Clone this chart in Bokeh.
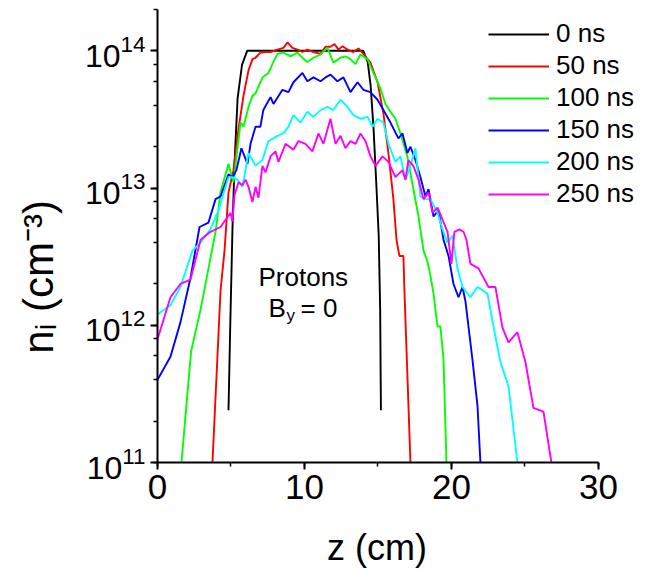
import math
from bokeh.plotting import figure
from bokeh.models import Label, SingleIntervalTicker, LogTicker
from bokeh.embed import file_html
from bokeh.resources import INLINE

# ---------------- data ----------------
z_0ns = [4.83, 4.95, 5.1, 5.25, 5.45, 5.75, 6.1, 7, 8, 9, 10, 11, 12, 13, 14.0,
         14.3, 14.5, 14.7, 14.9, 15.05, 15.15, 15.2]
n_0ns = [2.4e11, 1.0e12, 5.0e12, 1.6e13, 4.5e13, 7.9e13, 1.0e14, 1.0e14, 1.0e14,
         1.0e14, 1.0e14, 1.0e14, 1.0e14, 1.0e14, 1.0e14, 8.3e13, 5.6e13, 2.7e13,
         1.0e13, 4.5e12, 1.3e12, 2.4e11]

z_50ns = [3.74, 4.29, 4.56, 4.83, 5.17, 5.51, 5.85, 6.19, 6.46, 6.67, 7.0, 7.35, 7.69,
          8.16, 8.57, 8.84, 9.18, 9.52, 9.86, 10.2, 10.61, 11.09, 11.43, 11.77, 12.04,
          12.31, 12.59, 12.93, 13.33, 13.67, 14.01, 14.49, 14.97, 15.37, 15.71, 16.05,
          16.26, 16.46, 16.73, 16.8, 17.21]
n_50ns = [1.0e11, 1.8e12, 3.5e12, 9.3e12, 1.35e13, 2.7e13, 4.7e13, 7.2e13, 8.7e13,
          8.9e13, 9.7e13, 9.8e13, 9.8e13, 1.02e14, 1.05e14, 1.15e14, 1.05e14, 1.02e14,
          9.8e13, 1.02e14, 9.8e13, 9.5e13, 1.07e14, 1.07e14, 1.12e14, 1.02e14, 1.08e14,
          1.02e14, 9.8e13, 1.04e14, 9.5e13, 8.2e13, 5.9e13, 3.5e13, 1.8e13, 8.3e12,
          4.2e12, 3.2e12, 3.2e12, 1.8e12, 1.0e11]

z_100ns = [1.63, 2.29, 2.93, 3.47, 3.95, 4.29, 4.83, 5.17, 5.65, 5.85, 6.19, 6.46, 6.67,
           7.14, 7.55, 7.89, 8.16, 8.57, 9.05, 9.52, 9.86, 10.2, 10.61, 11.09, 11.56,
           11.97, 12.45, 12.79, 13.13, 13.47, 13.81, 14.29, 14.69, 15.17, 15.51, 15.85,
           16.19, 16.53, 17.0, 17.41, 17.76, 18.1, 18.37, 18.57, 18.78, 19.05, 19.25,
           19.46, 19.66]
n_100ns = [1.0e11, 6.5e11, 1.3e12, 2.6e12, 4.8e12, 9.3e12, 1.5e13, 1.1e13, 3.0e13,
           2.8e13, 3.9e13, 4.7e13, 4.9e13, 6.4e13, 6.9e13, 8.3e13, 9.5e13, 9.7e13,
           9.1e13, 9.7e13, 8.9e13, 8.3e13, 8.9e13, 9.4e13, 1.05e14, 8.2e13, 8.9e13,
           9.1e13, 8.7e13, 8.0e13, 9.4e13, 8.7e13, 6.9e13, 5.3e13, 4.1e13, 3.6e13,
           3.2e13, 2.5e13, 1.7e13, 9.8e12, 6.2e12, 3.5e12, 2.9e12, 2.3e12, 1.7e12,
           9.8e11, 9.8e11, 5.6e11, 1.0e11]

z_150ns = [0.0, 0.88, 1.56, 2.24, 2.86, 3.47, 3.95, 4.29, 4.83, 5.1, 5.37, 5.71, 6.12,
           6.33, 6.67, 7.0, 7.2, 7.69, 7.89, 8.5, 8.91, 9.25, 9.86, 10.2, 10.61, 11.09,
           11.43, 11.77, 12.24, 12.65, 13.13, 13.61, 14.01, 14.49, 14.97, 15.37, 15.85,
           16.39, 16.67, 17.0, 17.21, 17.55, 17.89, 18.23, 18.44, 18.78, 19.12, 19.46,
           19.8, 20.14, 20.48, 20.75, 20.95, 21.43, 21.77, 21.97]
n_150ns = [4.0e11, 5.9e11, 1.05e12, 2.2e12, 5.2e12, 5.6e12, 8.3e12, 8.7e12, 1.26e13,
           1.2e13, 1.35e13, 1.95e13, 1.5e13, 2.1e13, 2.8e13, 2.8e13, 3.7e13, 4.6e13,
           4.1e13, 5.2e13, 5.0e13, 5.9e13, 6.9e13, 6.0e13, 6.4e13, 6.0e13, 6.4e13,
           6.7e13, 6.0e13, 6.4e13, 5.0e13, 5.9e13, 5.2e13, 5.0e13, 4.4e13, 3.7e13,
           3.0e13, 2.3e13, 2.5e13, 1.8e13, 2.0e13, 1.6e13, 1.2e13, 8.7e12, 9.8e12,
           6.2e12, 6.9e12, 4.2e12, 3.2e12, 2.0e12, 1.6e12, 1.9e12, 1.5e12, 5.6e11,
           2.6e11, 1.0e11]

z_200ns = [0.0, 0.88, 1.56, 2.38, 2.93, 3.6, 4.15, 4.83, 5.1, 5.44, 5.78, 6.19, 6.67,
           7.14, 7.55, 7.89, 8.16, 8.57, 8.91, 9.25, 9.73, 10.2, 10.61, 11.09, 11.56,
           11.97, 12.45, 12.93, 13.33, 13.81, 14.29, 14.63, 14.97, 15.37, 15.71, 16.19,
           16.53, 16.87, 17.21, 17.55, 17.89, 18.23, 18.57, 19.05, 19.39, 19.73, 20.07,
           20.41, 20.75, 21.29, 21.77, 22.45, 22.86, 23.33, 23.88, 24.49]
n_200ns = [1.2e12, 1.4e12, 1.9e12, 3.5e12, 4.0e12, 5.0e12, 6.9e12, 1.2e13, 1.2e13,
           1.15e13, 1.02e13, 1.8e13, 1.45e13, 1.6e13, 2.2e13, 2.3e13, 2.4e13, 2.5e13,
           2.8e13, 3.4e13, 3.0e13, 3.6e13, 3.3e13, 3.7e13, 3.9e13, 3.7e13, 4.4e13,
           3.9e13, 3.4e13, 3.2e13, 3.3e13, 2.8e13, 3.2e13, 3.0e13, 2.1e13, 1.55e13,
           1.7e13, 1.15e13, 1.45e13, 1.95e13, 8.7e12, 8.3e12, 8.3e12, 6.6e12, 5.0e12,
           4.0e12, 4.5e12, 2.6e12, 1.9e12, 1.6e12, 1.9e12, 1.7e12, 9.8e11, 5.4e11,
           3.6e11, 1.0e11]

z_250ns = [0.0, 0.88, 1.56, 2.24, 2.93, 3.6, 4.29, 4.97, 5.1, 5.24, 5.51, 5.78, 5.99,
           6.19, 6.46, 6.67, 6.87, 7.14, 7.35, 7.69, 8.03, 8.23, 8.71, 9.25, 9.59,
           10.07, 10.54, 10.95, 11.29, 11.77, 12.11, 12.45, 12.79, 13.13, 13.47, 13.81,
           14.15, 14.49, 14.83, 15.31, 15.71, 16.19, 16.67, 16.87, 17.07, 17.41, 17.76,
           18.1, 18.44, 18.71, 19.05, 19.39, 19.73, 20.0, 20.2, 20.54, 20.82, 21.02,
           21.29, 21.84, 22.52, 22.99, 23.47, 23.88, 24.49, 25.03, 25.58, 26.26, 26.8]
n_250ns = [7.9e11, 1.6e12, 2.0e12, 2.15e12, 4.2e12, 4.8e12, 5.2e12, 6.6e12, 5.7e12,
           8.9e12, 1.1e13, 1.05e13, 1.15e13, 1.02e13, 7.9e12, 1.02e13, 8.5e12, 1.45e13,
           1.3e13, 1.7e13, 1.85e13, 1.55e13, 2.1e13, 1.9e13, 2.2e13, 2.1e13, 1.85e13,
           2.5e13, 2.1e13, 3.2e13, 2.1e13, 2.4e13, 1.95e13, 2.2e13, 2.1e13, 2.5e13,
           2.2e13, 1.7e13, 1.45e13, 1.7e13, 1.55e13, 1.2e13, 1.35e13, 1.15e13, 1.6e13,
           1.45e13, 1.15e13, 8.3e12, 9.3e12, 6.6e12, 7.2e12, 5.9e12, 4.8e12, 2.8e12,
           4.8e12, 5.0e12, 4.8e12, 4.2e12, 2.8e12, 2.6e12, 1.9e12, 1.9e12, 9.6e11,
           7.5e11, 8.9e11, 5.4e11, 2.5e11, 2.35e11, 1.0e11]

series_labels = ["0 ns", "50 ns", "100 ns", "150 ns", "200 ns", "250 ns"]
series_colors = ["#000000", "#ff0000", "#00ff00", "#0000ff", "#00ffff", "#ff00ff"]
series_z = [z_0ns, z_50ns, z_100ns, z_150ns, z_200ns, z_250ns]
series_n = [n_0ns, n_50ns, n_100ns, n_150ns, n_200ns, n_250ns]

x_axis_bounds = (0, 30)
x_view = (0, 33.95)      # frame extends right so the legend fits inside it
y_range = (1e11, 2e14)

FONT = "Liberation Sans"
NBSP = "\u00a0"

# ---------------- figure ----------------
p = figure(width=656, height=570, x_range=x_view, y_range=y_range,
           y_axis_type="log", output_backend="svg", toolbar_location=None,
           min_border_left=157, min_border_right=0, min_border_top=9,
           min_border_bottom=107)
p.outline_line_color = None
p.xgrid.visible = False
p.ygrid.visible = False
p.background_fill_color = "white"
p.border_fill_color = "white"

for zs, ns, lab, col in zip(series_z, series_n, series_labels, series_colors):
    p.line(zs, ns, line_color=col, line_width=1.9, legend_label=lab)

# axes
p.xaxis.ticker = SingleIntervalTicker(interval=10, num_minor_ticks=2)
p.xaxis.bounds = x_axis_bounds
p.yaxis.ticker = LogTicker()
for ax in (p.xaxis[0], p.yaxis[0]):
    ax.axis_line_width = 2
    ax.axis_line_color = "black"
    ax.major_tick_line_width = 2
    ax.minor_tick_line_width = 1.5
    ax.major_tick_in = 0
    ax.major_tick_out = 7
    ax.minor_tick_in = 0
    ax.minor_tick_out = 4
    ax.major_label_text_font = FONT
    ax.major_label_text_color = "black"
    ax.axis_label_text_font = FONT
    ax.axis_label_text_font_style = "normal"
    ax.axis_label_text_color = "black"
p.xaxis.major_label_text_font_size = "35px"
p.yaxis.major_label_text_font_size = "32px"
p.xaxis.major_label_standoff = 5
p.yaxis.major_label_standoff = 5
# trailing no-break spaces shift the centred label to the reference position
p.xaxis.axis_label = "z (cm)" + NBSP * 6
p.xaxis.axis_label_text_font_size = "36px"
p.xaxis.axis_label_standoff = 25
p.yaxis.axis_label = "n\u1d62 (cm\u207b\u00b3)" + NBSP * 7
p.yaxis.axis_label_text_font_size = "42px"
p.yaxis.axis_label_standoff = 20

# legend
lg = p.legend[0]
lg.location = (331, 253)
lg.label_text_font = FONT
lg.label_text_font_size = "26px"
lg.label_text_color = "black"
lg.glyph_width = 61
lg.glyph_height = 30
lg.label_height = 30
lg.spacing = 1
lg.padding = 0
lg.margin = 0
lg.label_standoff = 7
lg.border_line_color = None
lg.background_fill_alpha = 0

# annotation inside the frame
def add_lab(text, x, y, size):
    p.add_layout(Label(x=x, y=y, x_units="screen", y_units="screen", text=text,
                       text_font=FONT, text_font_size=size,
                       text_color="black", text_align="left",
                       text_baseline="alphabetic"))

add_lab("Protons", 101, 186, "26px")
add_lab("B", 111, 155, "26px")
add_lab("y", 129, 147, "17px")
add_lab("= 0", 143, 155, "26px")

open("out.html", "w").write(file_html(p, INLINE))
